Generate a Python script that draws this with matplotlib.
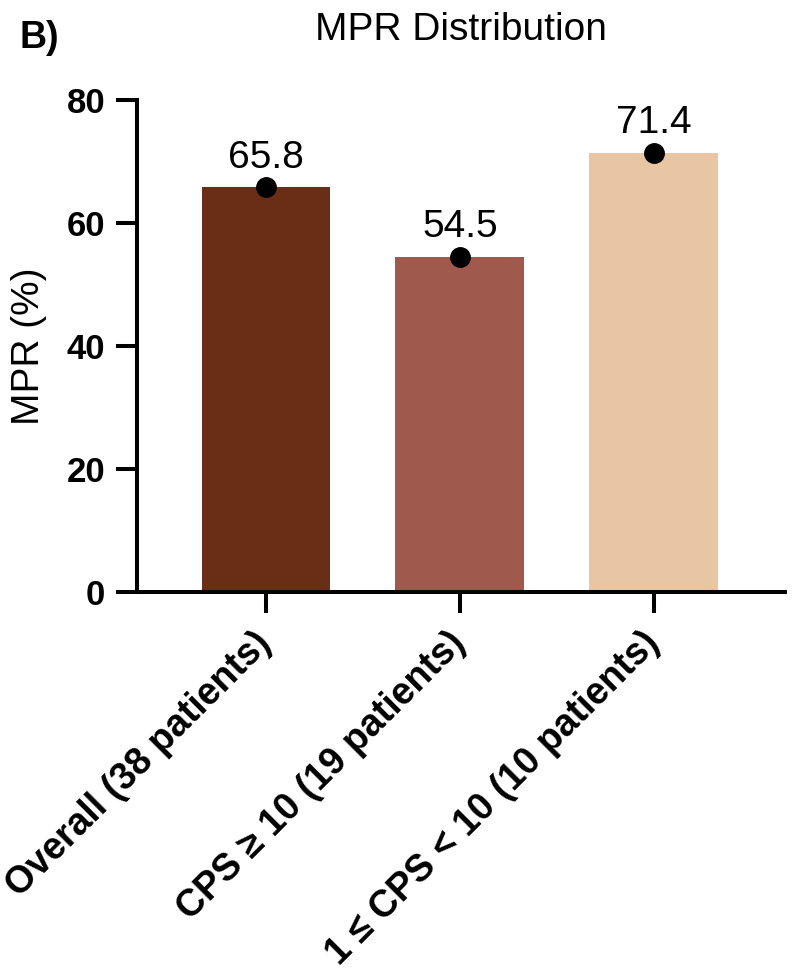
import matplotlib
matplotlib.use("Agg")
import matplotlib.pyplot as plt

plt.rcParams['font.family'] = ['Liberation Sans', 'DejaVu Sans']

# data
groups = ['Overall (38 patients)', 'CPS ≥ 10 (19 patients)', '1 ≤ CPS < 10 (10 patients)']
mpr = [65.8, 54.5, 71.4]
bar_colors = ['#6A2E17', '#9F5A4D', '#E9C6A3']

fig = plt.figure(figsize=(7.92, 9.71), dpi=100)
ax = fig.add_axes([0.173, 0.3903, 0.818, 0.5067])

x = list(range(len(groups)))
ax.bar(x, mpr, width=0.665, color=bar_colors, zorder=2)
ax.plot(x, mpr, 'o', color='black', markersize=14, linestyle='none', zorder=3)
for xi, v in zip(x, mpr):
    ax.annotate(f'{v}', (xi, v), xytext=(0, 14), textcoords='offset points',
                ha='center', va='baseline', fontsize=28)

ax.set_xlim(-0.665, 2.675)
ax.set_ylim(0, 80)
ax.set_yticks([0, 20, 40, 60, 80])
ax.set_xticks(x)
ax.set_xticklabels(groups, rotation=45, ha='right', va='center',
                   rotation_mode='anchor', fontsize=27, fontweight='bold')
for lab in ax.get_yticklabels():
    lab.set_fontsize(25)
    lab.set_fontweight('bold')

ax.spines['top'].set_visible(False)
ax.spines['right'].set_visible(False)
for s in ['left', 'bottom']:
    ax.spines[s].set_linewidth(2.9)
ax.tick_params(axis='both', length=15, width=2.9, color='black')
ax.tick_params(axis='y', pad=8)
ax.tick_params(axis='x', pad=18)

ax.set_ylabel('MPR (%)', fontsize=28, labelpad=14)

fig.text(0.5823, 0.9588, 'MPR Distribution', ha='center', va='baseline', fontsize=28)
fig.text(0.025, 0.9506, 'B)', ha='left', va='baseline', fontsize=27, fontweight='bold')

fig.savefig('out.png', dpi=100)
